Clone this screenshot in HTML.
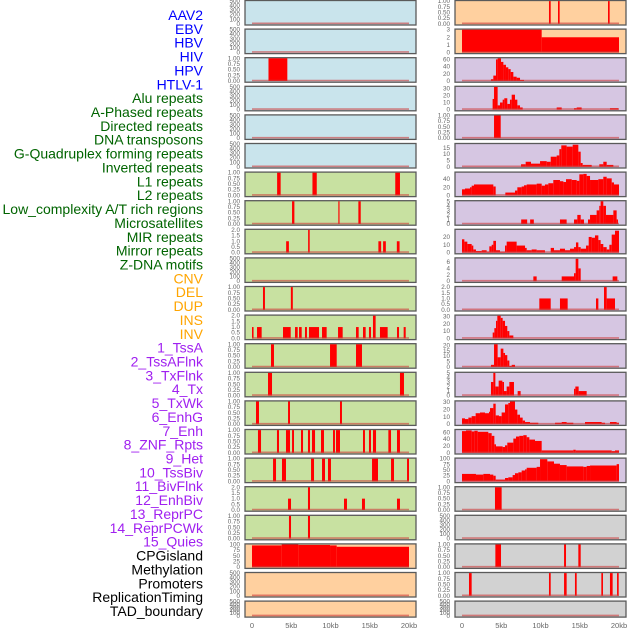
<!DOCTYPE html>
<html><head><meta charset="utf-8">
<style>
body{margin:0;background:#fff;width:630px;height:630px;overflow:hidden;font-family:"Liberation Sans",sans-serif;}
svg{display:block}
</style></head>
<body>
<svg id="chart" width="630" height="630" viewBox="0 0 630 630" xmlns="http://www.w3.org/2000/svg"></svg>
<script>
const trackLabels=["AAV2","EBV","HBV","HIV","HPV","HTLV-1","Alu repeats","A-Phased repeats","Directed repeats","DNA transposons","G-Quadruplex forming repeats","Inverted repeats","L1 repeats","L2 repeats","Low_complexity A/T rich regions","Microsatellites","MIR repeats","Mirror repeats","Z-DNA motifs","CNV","DEL","DUP","INS","INV","1_TssA","2_TssAFlnk","3_TxFlnk","4_Tx","5_TxWk","6_EnhG","7_Enh","8_ZNF_Rpts","9_Het","10_TssBiv","11_BivFlnk","12_EnhBiv","13_ReprPC","14_ReprPCWk","15_Quies","CPGisland","Methylation","Promoters","ReplicationTiming","TAD_boundary"];
const labelGroups=[6,13,5,15,5];
const groupColors=["#0000ff","#006400","#ffa500","#a020f0","#000000"];
const bgColors=["#c9e4ec","#c8e1a1","#ffd09f","#d6c6e2","#d2d2d2"];
const xTickValues=[0,5,10,15,20];
const xTickLabels=["0","5kb","10kb","15kb","20kb"];
const T500=[0,100,200,300,400,500],T1=[0,0.25,0.5,0.75,1],T2=[0,0.5,1,1.5,2],T100=[0,25,50,75,100];
const leftTicks=[T500,T500,T1,T500,T500,T500,T1,T1,T2,T500,T1,T2,T1,T1,T1,T1,T1,T2,T1,T100,T500,T500];
const rightTicks=[T1,[0,1,2,3],[0,20,40,60],[0,10,20,30],T1,[0,5,10,15],[0,20,40],[0,1,2,3,4,5],[0,10,20],[0,2,4,6],T2,[0,10,20,30],[0,5,10,15,20],[0,1,2,3,4,5],[0,10,20,30],[0,20,40,60],T100,T1,T500,T1,T1,T500];
const leftMax=[500,500,1,500,500,500,1,1,2,500,1,2,1,1,1,1,1,2,1,100,500,500];
const rightMax=[1,3,63,32,1,18,56,5,29,7.1,2,31,21,5,31,67,100,1,500,1,1,500];
const leftSegments=[
[],[],[[2.1,4.5,1]],[],[],[],
[[3.2,3.65,1],[7.7,8.25,1],[18.25,18.85,1]],
[[5.1,5.4,1],[11.0,11.15,1],[13.55,13.85,1]],
[[4.35,4.7,1],[7.15,7.35,2],[16.1,16.45,1],[16.7,17.05,1],[18.45,18.8,1]],
[],
[[1.4,1.65,1],[4.95,5.2,1]],
[[0,0.2,1],[0.64,1.23,1],[3.95,4.93,1],[5.48,5.82,1],[5.99,6.33,1],[6.75,7.0,1],[7.26,8.54,1],[8.92,9.51,1],[10.96,11.55,1],[13.25,13.59,1],[14.14,14.48,1],[14.9,15.16,1],[15.41,15.75,2],[16.3,17.28,1],[18.47,18.73,1],[19.32,19.58,1]],
[[2.42,2.8,1],[9.94,10.79,1],[13.25,14.01,1]],
[[2.04,2.55,1],[18.85,19.36,1]],
[[0.51,0.89,1],[4.59,4.84,1],[11.21,11.46,1]],
[[0.76,1.15,1],[3.18,3.44,1],[4.33,4.84,1],[5.1,5.35,1],[6.24,6.5,1],[7.13,7.39,1],[7.64,8.03,1],[8.79,9.17,1],[10.32,10.57,1],[10.7,11.21,1],[14.14,14.39,1],[14.9,15.16,1],[15.41,15.8,1],[17.37,17.71,1],[18.47,18.85,1]],
[[2.68,3.06,1],[3.82,4.33,1],[7.52,7.9,1],[8.92,9.3,1],[9.68,10.06,1],[15.29,16.05,1],[17.71,18.09,1],[19.75,20,1]],
[[4.59,4.97,1],[7.13,7.39,2],[11.72,12.1,1],[14.01,14.39,1],[18.47,18.85,1]],
[[4.71,4.97,1],[7.13,7.39,1]],
[[0,3.78,96],[3.78,5.9,100],[5.9,9.94,98],[9.94,10.79,96],[10.79,20,90]],
[],[]];
const rightSegments=[
[[11.08,11.3,1],[12.23,12.44,1],[18.6,18.81,1]],
[[0,10.15,3],[10.15,20,2]],
[[3.69,3.99,5],[3.99,4.33,15],[4.33,4.54,60],[4.54,4.97,63],[4.97,5.27,53],[5.27,5.6,45],[5.6,5.9,38],[5.9,6.2,33],[6.2,6.54,25],[6.54,6.96,12],[6.96,7.39,9],[7.39,7.9,3]],
[[3.9,4.08,15],[4.08,4.54,32],[4.54,4.84,6],[4.84,5.18,10],[5.18,5.39,14],[5.39,5.77,16],[5.77,6.11,8],[6.11,6.33,14],[6.33,6.75,21],[6.75,7.05,14],[7.05,7.39,6],[7.39,7.73,3],[12.06,12.7,3],[14.27,14.61,2],[14.61,15.24,3],[18.85,19.92,2]],
[[4.08,4.93,1]],
[[7.52,8.11,2],[8.11,8.79,4],[8.79,9.94,2.5],[9.94,10.79,4.5],[10.79,11.3,4],[11.3,12.06,8],[12.06,12.4,9],[12.4,12.65,14],[12.65,13.33,17],[13.33,14.1,16],[14.1,14.82,17.5],[14.82,15.12,12],[15.12,15.37,3],[15.37,16.52,1.5],[17.49,18,2],[18,18.43,4],[18.43,19.28,1.5]],
[[0,0.38,15],[0.38,1.02,17],[1.02,1.23,20],[1.23,1.53,24],[1.53,2.93,27],[2.93,3.99,27],[3.99,4.29,22],[5.52,6.75,7],[6.75,7.05,12],[7.05,7.6,20],[7.6,7.9,22],[7.9,8.24,25],[8.24,9.51,27],[9.51,10.15,29],[10.15,10.57,24],[10.57,11,27],[11,11.63,30],[11.63,12.48,38],[12.48,12.91,35],[12.91,13.25,33],[13.25,13.97,40],[13.97,14.61,38],[14.61,14.95,36],[14.95,15.46,52],[15.46,15.88,53],[15.88,16.31,48],[16.31,17.37,38],[17.37,18,40],[18,18.43,46],[18.43,19.07,42],[19.07,19.36,32],[19.36,20,27]],
[[7.54,8.3,1],[8.68,9.15,1],[12.48,13.33,1],[14.27,14.69,1],[14.69,15.12,2],[15.12,15.54,1],[16.05,16.31,1],[16.31,17.15,2],[17.15,17.49,3],[17.49,17.66,4],[17.66,18,5],[18,18.34,4],[18.34,19.28,2],[19.28,19.7,3],[19.7,19.87,1]],
[[0,0.3,17],[0.3,0.68,14],[0.68,1.23,11],[1.23,1.44,9],[1.44,1.78,4],[1.78,2.51,2],[2.51,3.14,3],[3.14,3.48,1],[3.48,3.78,8],[3.78,3.99,10],[3.99,4.33,15],[4.33,4.84,3],[4.84,5.48,1],[5.48,5.69,9],[5.69,6.96,14],[6.96,8.03,9],[8.03,8.24,6],[8.24,8.87,3],[8.87,9.51,4],[9.51,10.57,3],[11.3,11.72,6],[11.72,12.48,3],[12.48,13.12,5],[13.12,13.76,3],[13.76,14.27,5],[14.27,14.52,7],[14.52,14.82,13],[14.82,15.12,7],[15.12,15.8,5],[15.8,16.14,9],[16.14,16.52,20],[16.52,16.94,19],[16.94,17.37,22],[17.37,17.66,16],[17.66,18,11],[18,18.43,7],[18.43,18.77,4],[18.77,19.07,10],[19.07,19.49,23],[19.49,20,28]],
[[9.09,9.51,1.5],[12.7,14.27,1.5],[14.27,14.48,2.5],[14.48,14.82,7],[14.82,15.12,4],[19.19,19.79,1.5]],
[[9.85,11.3,1],[12.48,13.46,1],[17.07,17.37,1],[18.09,18.43,2],[18.43,19.49,1]],
[[3.91,4.12,8],[4.12,4.33,14],[4.33,4.5,24],[4.5,4.93,31],[4.93,5.18,28],[5.18,5.48,24],[5.48,5.77,17],[5.77,6.03,10],[6.03,6.54,4]],
[[3.69,4.08,2],[4.08,4.54,21],[4.54,4.93,9],[4.93,5.27,17],[5.27,5.48,13],[5.48,5.77,11],[5.77,6.03,6],[6.03,6.33,1],[6.33,6.75,2]],
[[3.69,3.99,3],[3.99,4.25,5],[4.25,4.67,2],[4.67,5.14,3.3],[5.14,5.35,3],[5.35,5.69,1],[5.69,6.03,2],[6.03,6.62,3],[7.09,7.47,1],[14.27,14.44,1.5],[14.44,14.86,2],[14.86,15.88,1]],
[[0,0.38,8],[0.38,0.81,7],[0.81,1.23,9],[1.23,1.74,11],[1.74,2.29,15],[2.29,2.93,16],[2.93,3.44,15],[3.44,3.57,17],[3.57,3.99,22],[3.99,4.29,28],[4.29,4.71,12],[4.71,5.05,11],[5.05,5.48,16],[5.48,5.9,27],[5.9,6.11,29],[6.11,6.75,31],[6.75,7.05,20],[7.05,7.39,13],[7.39,7.73,9],[7.73,8.03,5],[8.03,8.66,3],[8.66,9.72,2],[11.85,12.7,2],[12.7,13.33,3],[13.33,14.18,2],[15.67,17.79,3],[17.79,18.22,2],[18.85,19.7,3],[19.7,20,2]],
[[0,0.51,64],[0.51,1.23,66],[1.23,1.57,63],[1.57,2,65],[2,3.35,62],[3.35,3.78,58],[3.78,4.12,50],[4.12,4.33,25],[4.33,5.18,19],[5.18,5.48,17],[5.48,5.77,22],[5.77,6.54,30],[6.54,6.88,42],[6.88,7.3,48],[7.3,7.81,50],[7.81,8.24,52],[8.24,8.58,46],[8.58,9.3,39],[9.3,10.15,35],[10.15,14.18,7],[14.18,14.48,9],[14.48,19.07,7],[19.07,19.49,5],[19.49,20,7]],
[[0,1.78,33],[1.78,2.72,30],[2.72,3.57,33],[3.57,3.99,30],[3.99,4.29,25],[4.29,5.48,8],[5.48,5.9,15],[5.9,6.45,18],[6.45,6.75,28],[6.75,7.18,36],[7.18,7.6,40],[7.6,8.03,48],[8.03,8.24,53],[8.24,9.51,60],[9.51,9.94,64],[9.94,10.87,98],[10.87,11.72,88],[11.72,12.48,78],[12.48,13.33,72],[13.33,15.46,66],[15.46,15.88,64],[15.88,16.31,68],[16.31,19.7,70],[19.7,20,76]],
[[4.2,5.05,1]],
[],
[[4.25,4.97,1],[13.0,13.25,1],[14.82,15.12,1]],
[[0.89,1.23,1],[11.08,11.3,1],[13.0,13.33,1],[14.39,14.61,1],[17.75,17.96,1],[18.85,19.19,1],[19.75,19.96,1]],
[]];

const NS="http://www.w3.org/2000/svg";
const svg=document.getElementById('chart');
function mk(tag,attrs,parent){const e=document.createElementNS(NS,tag);for(const k in attrs)e.setAttribute(k,attrs[k]);(parent||svg).appendChild(e);return e;}
function fmtTick(t,ticks){const step=ticks[1]-ticks[0];if(step===0.25)return t.toFixed(2);if(step===0.5)return t.toFixed(1);return String(t);}
// group index for each track
const trackGroup=[];labelGroups.forEach((n,g)=>{for(let i=0;i<n;i++)trackGroup.push(g);});
// labels
trackLabels.forEach((lab,i)=>{
  const t=mk('text',{x:203,y:20+i*13.86,'text-anchor':'end','font-size':'14',fill:groupColors[trackGroup[i]]});
  
  
  t.textContent=lab;
});
const cols=[{x0:245,x1:416,d0:252,d1:409,ticks:leftTicks,max:leftMax,segs:leftSegments,off:0,tx:240},
            {x0:455,x1:626,d0:462,d1:619,ticks:rightTicks,max:rightMax,segs:rightSegments,off:22,tx:450}];
cols.forEach((c,ci)=>{
  const xs=v=>c.d0+(v/20)*(c.d1-c.d0);
  for(let r=0;r<22;r++){
    const idx=c.off+r;
    const top=0.5+28.6*r, h=(r===21)?16:24.5;
    const g=mk('g',{});
    
    
    const bg=mk('rect',{x:c.x0,y:top,width:c.x1-c.x0,height:h,fill:bgColors[trackGroup[idx]],stroke:'#5a5a5a','stroke-width':1.3},g);
    
    
    const yb=top+h-1.2, yt=top+0.6, mx=c.max[r];
    const ys=v=>yb-(v/mx)*(yb-yt);
    c.segs[r].forEach(s=>{
      const b=mk('rect',{x:xs(s[0]),y:ys(s[2]),width:Math.max(0.8,xs(s[1])-xs(s[0])),height:yb-ys(s[2]),fill:'#ff0000'},g);
      
      
    });
    const bl=mk('line',{x1:xs(0),x2:xs(20),y1:yb-0.5,y2:yb-0.5,stroke:'rgba(205,60,60,0.6)','stroke-width':1.6},g);
    
    
    const tk=c.ticks[r];
    tk.forEach(t=>{
      const tl=mk('text',{x:c.tx,y:ys(t)+2,'text-anchor':'end','font-size':'6.3',fill:'#666'},g);
      
      
      tl.textContent=fmtTick(t,tk);
    });
  }
  xTickValues.forEach((v,i)=>{
    const t=mk('text',{x:xs(v),y:628,'text-anchor':'middle','font-size':'7.5',fill:'#666'});
    
    
    t.textContent=xTickLabels[i];
  });
});
</script>
</body></html>
